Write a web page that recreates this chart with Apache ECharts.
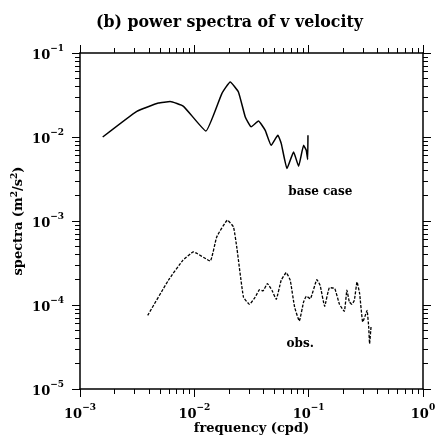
<!DOCTYPE html>
<html>
<head>
<meta charset="utf-8">
<script src="https://cdn.jsdelivr.net/npm/echarts@6/dist/echarts.min.js"></script>
<style>
  html, body { margin: 0; padding: 0; background: #fff; }
  #chart { width: 435px; height: 436px; }
</style>
</head>
<body>
<div id="chart"></div>
<script>
// base case (model) spectrum, solid line
const baseFreq = [0.00158, 0.00314, 0.00485, 0.00614, 0.00804, 0.01262, 0.0174, 0.0206, 0.0243, 0.0279, 0.0314,
  0.0364, 0.0417, 0.0470, 0.0538, 0.0576, 0.0646, 0.0738, 0.0817, 0.0903, 0.0953, 0.098, 0.0986];
const baseSpec = [0.01, 0.0202, 0.0254, 0.0264, 0.0232, 0.01178, 0.0329, 0.0452, 0.0344, 0.0173, 0.0132,
  0.0155, 0.0120, 0.00796, 0.01047, 0.00834, 0.00421, 0.00662, 0.00448, 0.00796, 0.00695, 0.00538, 0.01047];

// observed spectrum, dashed line
const obsFreq = [0.00391, 0.00593, 0.00793, 0.00982, 0.01374, 0.0157, 0.0195, 0.0220, 0.0236, 0.0269, 0.0304,
  0.0341, 0.0372, 0.0398, 0.0436, 0.0477, 0.0520, 0.0575, 0.0637, 0.0690, 0.0753, 0.0828, 0.0903, 0.0954,
  0.1033, 0.118, 0.126, 0.138, 0.152, 0.169, 0.186, 0.205, 0.216, 0.227, 0.239, 0.251, 0.265, 0.279,
  0.297, 0.313, 0.324, 0.335, 0.341, 0.351];
const obsSpec = [7.53e-5, 1.97e-4, 3.40e-4, 4.28e-4, 3.34e-4, 6.46e-4, 1.02e-3, 8.49e-4, 4.69e-4, 1.24e-4, 1.02e-4,
  1.24e-4, 1.52e-4, 1.47e-4, 1.80e-4, 1.50e-4, 1.17e-4, 1.97e-4, 2.43e-4, 1.97e-4, 9.46e-5, 6.45e-5, 1.09e-4, 1.27e-4,
  1.19e-4, 2.0e-4, 1.71e-4, 9.65e-5, 1.61e-4, 1.57e-4, 1.02e-4, 8.41e-5, 1.50e-4, 1.09e-4, 1.02e-4, 1.14e-4, 1.88e-4, 1.37e-4,
  6.28e-5, 7.53e-5, 8.65e-5, 5.47e-5, 3.47e-5, 5.47e-5];

// axis decades and in-plot labels
const xDecades = [0.001, 0.01, 0.1, 1];
const yDecades = [1e-5, 1e-4, 1e-3, 1e-2, 1e-1];
const baseLabel = ["base case", 0.1265, 0.0022];
const obsLabel = ["obs.", 0.0844, 3.4e-5];

function minorTicks(decades) {
  let out = [];
  for (let i = 0; i < decades.length - 1; i++) {
    for (let k = 2; k <= 9; k++) out.push(+(decades[i] * k).toPrecision(3));
  }
  return out;
}

const FONT = "DejaVu Serif";
const axisLineStyle = { color: "#000", width: 1.5 };

function powLabel(v) {
  let e = Math.round(Math.log10(v));
  return "{b|10}{s|" + (e < 0 ? "\u2212" + (-e) : e) + "}";
}
const richPow = {
  b: { fontFamily: FONT, fontSize: 13, fontWeight: "bold", color: "#000", verticalAlign: "bottom", lineHeight: 18 },
  s: { fontFamily: FONT, fontSize: 9, fontWeight: "bold", color: "#000", verticalAlign: "top", lineHeight: 18 }
};

function makeAxis(dir, decades, position, major, labels) {
  let ax = {
    type: "log",
    logBase: 10,
    min: decades[0],
    max: decades[decades.length - 1],
    position: position,
    gridIndex: 0,
    splitLine: { show: false },
    axisLine: { show: major, lineStyle: axisLineStyle },
    axisTick: {
      show: true,
      inside: false,
      length: major ? 8 : 5,
      lineStyle: { color: "#000", width: 1 },
      customValues: major ? decades : minorTicks(decades)
    },
    axisLabel: { show: false }
  };
  if (labels) {
    ax.axisLabel = {
      show: true,
      margin: dir === "x" ? 14 : 16,
      customValues: decades,
      formatter: powLabel,
      rich: richPow
    };
  }
  return ax;
}

let chart = echarts.init(document.getElementById("chart"));

let xMain = makeAxis("x", xDecades, "bottom", true, true);
xMain.name = "frequency (cpd)";
xMain.nameLocation = "middle";
xMain.nameGap = 33;
xMain.nameMoveOverlap = false;
xMain.nameTextStyle = { fontFamily: FONT, fontSize: 13, fontWeight: "bold", color: "#000", verticalAlign: "top" };

let yMain = makeAxis("y", yDecades, "left", true, true);
yMain.name = "spectra (m{s|2}/s{s|2})";
yMain.nameLocation = "middle";
yMain.nameGap = 52;
yMain.nameMoveOverlap = false;
yMain.nameTextStyle = {
  fontFamily: FONT, fontSize: 13, fontWeight: "bold", color: "#000",
  rich: {
    s: { fontFamily: FONT, fontSize: 9, fontWeight: "bold", color: "#000", verticalAlign: "top", lineHeight: 18 }
  }
};

let option = {
  animation: false,
  backgroundColor: "#fff",
  title: {
    text: "(b) power spectra of v velocity",
    left: 91,
    top: 10,
    textStyle: { fontFamily: FONT, fontSize: 15.8, fontWeight: "bold", color: "#000" }
  },
  grid: {
    left: 80,
    right: 12,
    top: 53,
    bottom: 47,
    containLabel: false,
    outerBoundsMode: "none"
  },
  xAxis: [
    xMain,
    makeAxis("x", xDecades, "bottom", false, false),
    makeAxis("x", xDecades, "top", true, false),
    makeAxis("x", xDecades, "top", false, false)
  ],
  yAxis: [
    yMain,
    makeAxis("y", yDecades, "left", false, false),
    makeAxis("y", yDecades, "right", true, false),
    makeAxis("y", yDecades, "right", false, false)
  ],
  series: [
    {
      name: "base case",
      type: "line",
      xAxisIndex: 0,
      yAxisIndex: 0,
      showSymbol: false,
      symbol: "none",
      smooth: 0.12,
      data: baseFreq.map((f, i) => [f, baseSpec[i]]),
      lineStyle: { color: "#000", width: 1.5 },
      markPoint: {
        symbol: "circle",
        symbolSize: 0,
        label: {
          show: true,
          position: "inside",
          formatter: p => p.name,
          fontFamily: FONT, fontSize: 12, fontWeight: "bold", color: "#000"
        },
        data: [{ name: baseLabel[0], coord: [baseLabel[1], baseLabel[2]] }]
      }
    },
    {
      name: "obs.",
      type: "line",
      xAxisIndex: 0,
      yAxisIndex: 0,
      showSymbol: false,
      symbol: "none",
      smooth: 0.12,
      data: obsFreq.map((f, i) => [f, obsSpec[i]]),
      lineStyle: { color: "#000", width: 1.3, type: [3, 1.5] },
      markPoint: {
        symbol: "circle",
        symbolSize: 0,
        label: {
          show: true,
          position: "inside",
          formatter: p => p.name,
          fontFamily: FONT, fontSize: 12, fontWeight: "bold", color: "#000"
        },
        data: [{ name: obsLabel[0], coord: [obsLabel[1], obsLabel[2]] }]
      }
    }
  ]
};
chart.setOption(option);
</script>
</body>
</html>
